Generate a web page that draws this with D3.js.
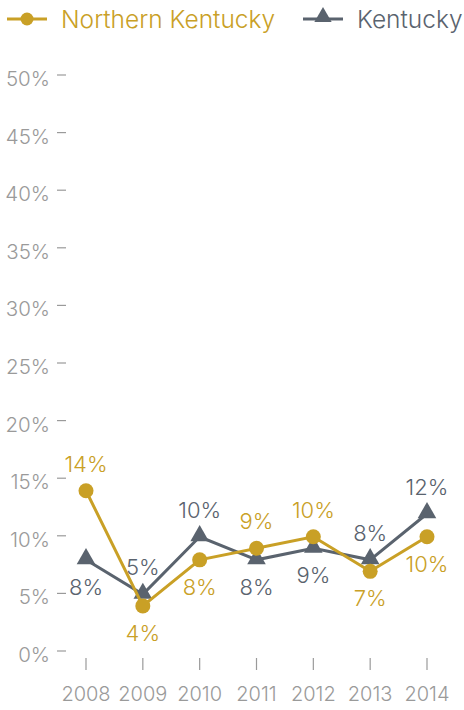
<!DOCTYPE html>
<html>
<head>
<meta charset="utf-8">
<script src="https://cdn.jsdelivr.net/npm/d3@7"></script>
<style>
  html, body { margin: 0; padding: 0; background: #fff; }
  svg { display: block; font-family: "Inter", "Noto Sans", sans-serif; font-weight: 300; }
</style>
</head>
<body>
<svg id="chart" width="464" height="710"></svg>
<script>
// Share of population by year, two regions
const years = ["2008", "2009", "2010", "2011", "2012", "2013", "2014"];
const northernKentucky = [14, 4, 8, 9, 10, 7, 10];
const kentucky = [8, 5, 10, 8, 9, 8, 12];
const yTicks = [0, 5, 10, 15, 20, 25, 30, 35, 40, 45, 50];
const seriesNames = ["Northern Kentucky", "Kentucky"];

const gold = "#C9A026";
const slate = "#5A636E";
const axisGrey = "#9A9A9A";

const svg = d3.select("#chart");

const x = d3.scalePoint().domain(years).range([86, 427]);
const y = d3.scaleLinear().domain([0, 50]).range([652, 76]);

// Y axis: labels with short dash ticks
const yAxis = svg.append("g").attr("class", "y-axis");
yAxis.selectAll("line").data(yTicks).join("line")
  .attr("x1", 57).attr("x2", 66)
  .attr("y1", d => y(d) - 1).attr("y2", d => y(d) - 1)
  .attr("stroke", axisGrey).attr("stroke-width", 1.2);
yAxis.selectAll("text").data(yTicks).join("text")
  .attr("x", 50).attr("y", d => y(d) + 10)
  .attr("text-anchor", "end")
  .attr("font-size", 20.5).attr("fill", axisGrey)
  .text(d => d + "%");

// X axis: vertical ticks and year labels
const xAxis = svg.append("g").attr("class", "x-axis");
xAxis.selectAll("line").data(years).join("line")
  .attr("x1", d => x(d)).attr("x2", d => x(d))
  .attr("y1", 658).attr("y2", 670)
  .attr("stroke", axisGrey).attr("stroke-width", 1.2);
xAxis.selectAll("text").data(years).join("text")
  .attr("x", d => x(d)).attr("y", 701)
  .attr("text-anchor", "middle")
  .attr("font-size", 20).attr("fill", axisGrey)
  .text(d => d);

const line = d3.line().x((d, i) => x(years[i])).y(d => y(d));

// Kentucky series
svg.append("path").datum(kentucky)
  .attr("d", line).attr("fill", "none")
  .attr("stroke", slate).attr("stroke-width", 3);
const tri = d3.symbol().type(d3.symbolTriangle).size(150);
svg.selectAll(".ky-mark").data(kentucky).join("path")
  .attr("class", "ky-mark")
  .attr("d", tri)
  .attr("transform", (d, i) => `translate(${x(years[i])},${y(d) - 1})`)
  .attr("fill", slate);

// Northern Kentucky series
svg.append("path").datum(northernKentucky)
  .attr("d", line).attr("fill", "none")
  .attr("stroke", gold).attr("stroke-width", 3);
svg.selectAll(".nk-mark").data(northernKentucky).join("circle")
  .attr("class", "nk-mark")
  .attr("cx", (d, i) => x(years[i])).attr("cy", d => y(d))
  .attr("r", 7.5).attr("fill", gold);

// Value labels: the higher series is labelled above, the lower below
function labelY(v, other) {
  return v >= other ? y(v) - 27 + 8 : y(v) + 27 + 8;
}
svg.selectAll(".ky-label").data(kentucky).join("text")
  .attr("class", "ky-label")
  .attr("x", (d, i) => x(years[i])).attr("y", (d, i) => labelY(d, northernKentucky[i]))
  .attr("text-anchor", "middle").attr("font-size", 22).attr("fill", slate)
  .text(d => d + "%");
svg.selectAll(".nk-label").data(northernKentucky).join("text")
  .attr("class", "nk-label")
  .attr("x", (d, i) => x(years[i])).attr("y", (d, i) => labelY(d, kentucky[i]))
  .attr("text-anchor", "middle").attr("font-size", 22).attr("fill", gold)
  .text(d => d + "%");

// Legend
const legend = svg.append("g").attr("class", "legend");
const legendItems = [
  { name: seriesNames[0], color: gold, x0: 7, shape: "circle" },
  { name: seriesNames[1], color: slate, x0: 303, shape: "triangle" }
];
legendItems.forEach(it => {
  const g = legend.append("g");
  g.append("line").attr("x1", it.x0).attr("x2", it.x0 + 40)
    .attr("y1", 19).attr("y2", 19)
    .attr("stroke", it.color).attr("stroke-width", 3);
  if (it.shape === "circle") {
    g.append("circle").attr("cx", it.x0 + 20).attr("cy", 19).attr("r", 6.5).attr("fill", it.color);
  } else {
    g.append("path").attr("d", d3.symbol().type(d3.symbolTriangle).size(130))
      .attr("transform", `translate(${it.x0 + 20},17)`).attr("fill", it.color);
  }
  g.append("text").attr("x", it.x0 + 54).attr("y", 28)
    .attr("font-size", 24.5).attr("fill", it.color).text(it.name);
});
</script>
</body>
</html>
